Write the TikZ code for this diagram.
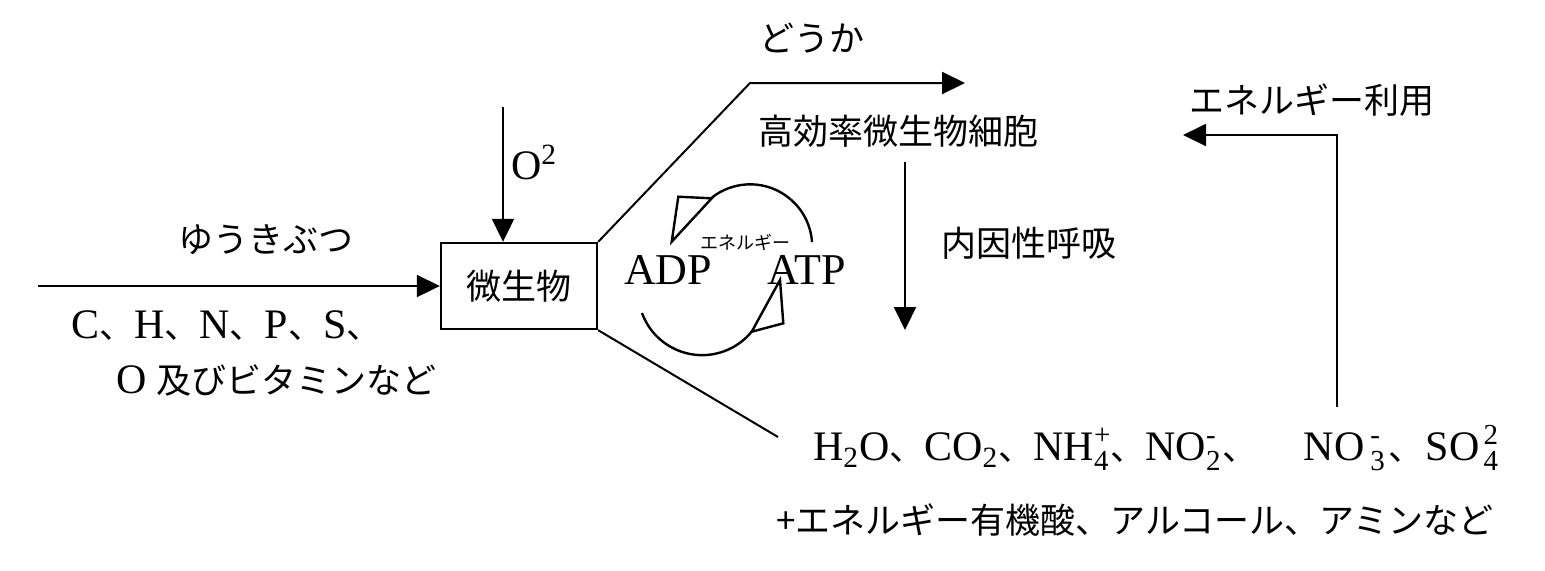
\documentclass[tikz,border=0pt]{standalone}
\usepackage{fontspec}
\setmainfont{Liberation Serif}
\newfontfamily\jpfont{Noto Sans CJK JP}
\usetikzlibrary{arrows.meta,positioning}

\newcommand\jpt{\jpfont\fontsize{17.5}{21}\selectfont}
\newcommand\jpc{{\jpt 、}}
\newcommand\ionss[2]{\makebox[0pt][l]{\raisebox{0.85ex}{\fontsize{14.5}{14.5}\selectfont #1}}\raisebox{-0.5ex}{\fontsize{14.5}{14.5}\selectfont #2}}

\begin{document}
\begin{tikzpicture}[x=0.5pt, y=-0.5pt, line width=1pt,
    jp/.style={font=\jpt, inner sep=0pt},
    tm/.style={font=\fontsize{21}{25}\selectfont, inner sep=0pt},
    flow/.style={-{Triangle[length=11.5pt,width=11pt]}},
    cyc/.style={line width=1.2pt, line join=miter}]
    \useasboundingbox (0,0) rectangle (1545,570);

    % Microorganism
    \node [draw, line width=1.2pt, minimum width=78pt, minimum height=43pt, jp] (mb) at (519,286) {微生物};

    % Organic input
    \coordinate (in) at (38,286);
    \draw [flow] (in) -- (mb);
    \node [jp] (org) at (266,240) {ゆうきぶつ};
    \node [tm, anchor=west] (elem) at (70,326) {C\jpc H\jpc N\jpc P\jpc S\jpc};
    \node [tm, anchor=west] (vit) at (115,380) {O {\jpt 及びビタミンなど}};

    % Oxygen
    \coordinate (oxin) at (503,107);
    \draw [flow] (oxin) -- (oxin |- mb.north);
    \node [tm, anchor=west] (ox) at (510,162) {O\textsuperscript{2}};

    % Upper branch
    \coordinate (upbend) at (750,83);
    \coordinate (upout) at (965,83);
    \draw [flow] (mb.north east) -- (upbend) -- (upout);
    \node [jp] (dk) at (812,38) {どうか};
    \node [jp] (cell) at (898,131) {高効率微生物細胞};

    % Lower branch
    \coordinate (lowend) at (778,437);
    \draw (mb.south east) -- (lowend);

    % ADP / ATP cycle
    \node [font=\fontsize{22}{26}\selectfont, inner sep=0pt] (adp) at (668,270) {ADP};
    \node [font=\fontsize{22}{26}\selectfont, inner sep=0pt] (atp) at (807,270) {ATP};
    \node [font=\jpfont\fontsize{9}{10}\selectfont, inner sep=0pt] (en) at (745,242) {エネルギー};
    \draw [cyc] (812,242) arc [start angle=-4, end angle=-128, radius=62];
    \draw [cyc] (671.7,241.7) -- (678.3,196.7) -- (711.7,198.3) -- cycle;
    \draw [cyc] (642,313) arc [start angle=160, end angle=39, radius=64];
    \draw [cyc] (780,280) -- (751.7,331.7) -- (783.3,323.3) -- cycle;

    % Endogenous respiration
    \coordinate (rsp) at (905,162);
    \coordinate (rspend) at (905,330);
    \draw [flow] (rsp) -- (rspend);
    \node [jp, anchor=west] (resp) at (940,243) {内因性呼吸};

    % Energy use
    \coordinate (eubot) at (1337,407);
    \coordinate (eutop) at (1337,135);
    \coordinate (euend) at (1183,135);
    \draw [flow] (eubot) -- (eutop) -- (euend);
    \node [jp] (euse) at (1312,100) {エネルギー利用};

    % Products
    \node [tm, anchor=west] (prod) at (812,448) {H\textsubscript{2}O\jpc CO\textsubscript{2}\jpc NH\ionss{+}{4}\hspace{1pt}\jpc NO\ionss{-}{2}\hspace{1pt}\jpc\hspace{23pt}NO\hspace{3pt}\ionss{-}{3}\hspace{2pt}\jpc\hspace{1pt}SO\hspace{2pt}\ionss{2}{4}};
    \node [jp, anchor=west] (extra) at (775,520) {+エネルギー有機酸、アルコール、アミンなど};
\end{tikzpicture}
\end{document}
